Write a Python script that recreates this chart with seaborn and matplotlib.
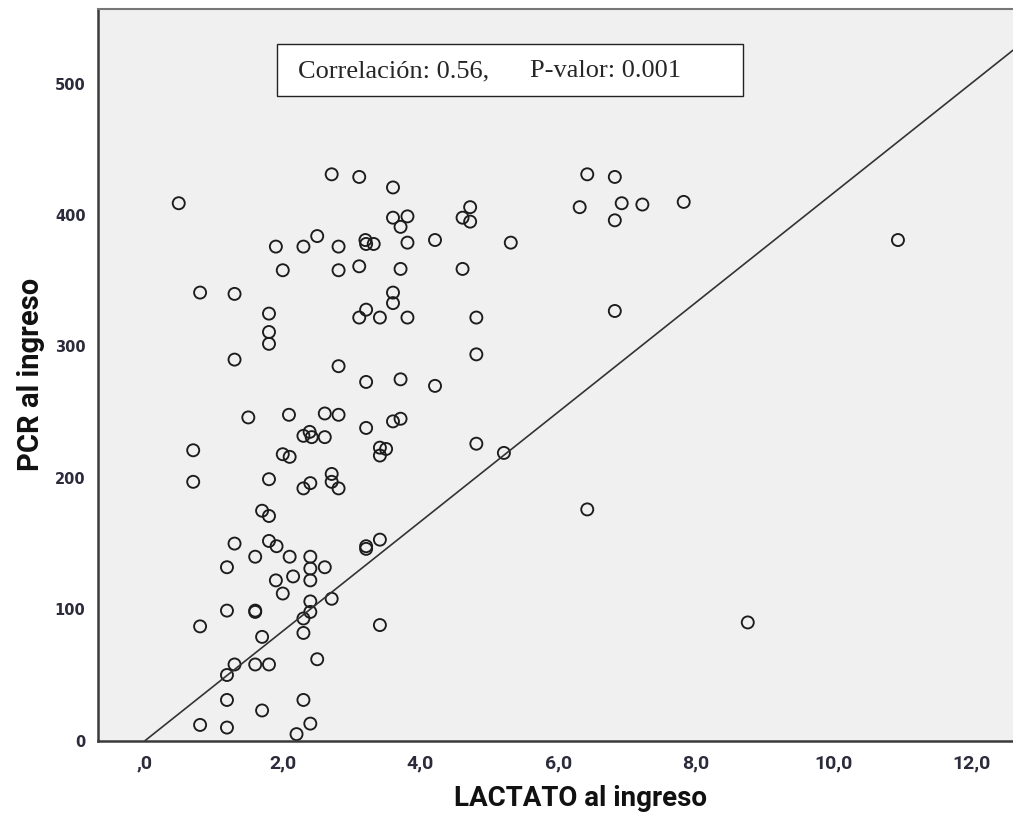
import numpy as np
import matplotlib
matplotlib.use("Agg")
import matplotlib.pyplot as plt
import seaborn as sns
from matplotlib.patches import Rectangle

# data
lactato = [0.49, 0.70, 0.70, 0.80, 0.80, 0.80, 1.19, 1.19, 1.19, 1.19, 1.19,
           1.30, 1.30, 1.30, 1.30, 1.50, 1.60, 1.60, 1.60, 1.60, 1.70, 1.70, 1.70,
           1.80, 1.80, 1.80, 1.80, 1.80, 1.80, 1.80, 1.90, 1.90, 1.91,
           2.00, 2.00, 2.00, 2.09, 2.10, 2.10, 2.15, 2.20,
           2.30, 2.30, 2.30, 2.30, 2.30, 2.30, 2.39, 2.42,
           2.40, 2.40, 2.40, 2.40, 2.40, 2.40, 2.40, 2.50, 2.50,
           2.61, 2.61, 2.61, 2.71, 2.71, 2.71, 2.71,
           2.81, 2.81, 2.81, 2.81, 2.81, 3.11, 3.11, 3.11,
           3.20, 3.21, 3.32, 3.21, 3.21, 3.21, 3.21, 3.21,
           3.41, 3.41, 3.41, 3.50, 3.41, 3.41,
           3.60, 3.60, 3.60, 3.60, 3.60, 3.71, 3.71, 3.71, 3.71,
           3.81, 3.81, 3.81, 4.21, 4.21, 4.61, 4.61, 4.72, 4.72,
           4.81, 4.81, 4.81, 5.21, 5.31, 6.31, 6.42, 6.42,
           6.82, 6.82, 6.82, 6.92, 7.22, 7.82, 8.75, 10.93]
pcr = [409, 221, 197, 341, 87, 12, 132, 99, 50, 31, 10,
       340, 290, 150, 58, 246, 140, 98, 99, 58, 175, 79, 23,
       325, 311, 302, 199, 171, 152, 58, 376, 122, 148,
       358, 218, 112, 248, 216, 140, 125, 5,
       376, 232, 192, 93, 82, 31, 235, 231,
       196, 140, 131, 122, 106, 98, 13, 384, 62,
       249, 231, 132, 431, 203, 197, 108,
       376, 358, 285, 248, 192, 429, 361, 322,
       381, 378, 378, 328, 273, 238, 148, 146,
       322, 223, 217, 222, 153, 88,
       421, 398, 341, 333, 243, 391, 359, 275, 245,
       399, 379, 322, 381, 270, 398, 359, 406, 395,
       322, 294, 226, 219, 379, 406, 431, 176,
       429, 396, 327, 409, 408, 410, 90, 381]

fit_slope = 41.7
fit_x = [0.0, 12.6]
fit_y = [fit_slope * v for v in fit_x]

x_ticks = [0, 2, 4, 6, 8, 10, 12]
x_tick_labels = [",0", "2,0", "4,0", "6,0", "8,0", "10,0", "12,0"]
y_ticks = [0, 100, 200, 300, 400, 500]

sns.set_style("white")
plt.rcParams["font.family"] = ["DejaVu Sans"]

fig = plt.figure(figsize=(10.13, 8.19), dpi=100)
ax = fig.add_axes([98 / 1013, 1 - 740.7 / 819, 1 - 98 / 1013, (740.7 - 9) / 819])
ax.set_facecolor("#f0f0f0")

sns.scatterplot(x=lactato, y=pcr, ax=ax, marker="o", s=75,
                facecolor="none", edgecolor="#1c1c1c", linewidth=1.35)
sns.lineplot(x=fit_x, y=fit_y, ax=ax, color="#333333", linewidth=1.2)

ax.set_xlim(-0.682, 12.6)
ax.set_ylim(0, 556.8)
ax.set_xticks(x_ticks)
ax.set_xticklabels(x_tick_labels)
ax.set_yticks(y_ticks)

label_font = ["Roboto", "DejaVu Sans"]
for lab in ax.get_xticklabels():
    lab.set_family(label_font)
    lab.set_fontweight("bold")
    lab.set_fontsize(14)
    lab.set_color("#2b2b3b")
for lab in ax.get_yticklabels():
    lab.set_fontweight("bold")
    lab.set_fontsize(10.5)
    lab.set_color("#2b2b3b")

ax.tick_params(axis="x", direction="out", length=5, width=1.5, color="#333333", pad=5)
ax.tick_params(axis="y", direction="out", length=7, width=1.5, color="#333333", pad=2)

ax.set_xlabel("LACTATO al ingreso", family=label_font, fontweight="bold",
              fontsize=20, color="#111111")
ax.xaxis.set_label_coords(0.527, -0.06)
ax.set_ylabel("PCR al ingreso", family=label_font, fontweight="bold",
              fontsize=21, labelpad=7, color="#111111")

for side in ["left", "bottom"]:
    ax.spines[side].set_color("#3a3a3a")
    ax.spines[side].set_linewidth(1.8)
ax.spines["top"].set_color("#777777")
ax.spines["top"].set_linewidth(1.5)
ax.spines["right"].set_visible(False)

# annotation box
fig.patches.append(Rectangle((277 / 1013, 1 - 96 / 819), 466 / 1013, 52 / 819,
                             transform=fig.transFigure, facecolor="white",
                             edgecolor="#222222", linewidth=1.0, zorder=5))
fig.text(298 / 1013, 1 - 71 / 819, "Correlación: 0.56,", family="Liberation Serif",
         fontsize=19, va="center", ha="left", zorder=6)
fig.text(530 / 1013, 1 - 71 / 819, "P-valor: 0.001", family="Liberation Serif",
         fontsize=19, va="center", ha="left", zorder=6)

fig.savefig("out.png", dpi=100)
